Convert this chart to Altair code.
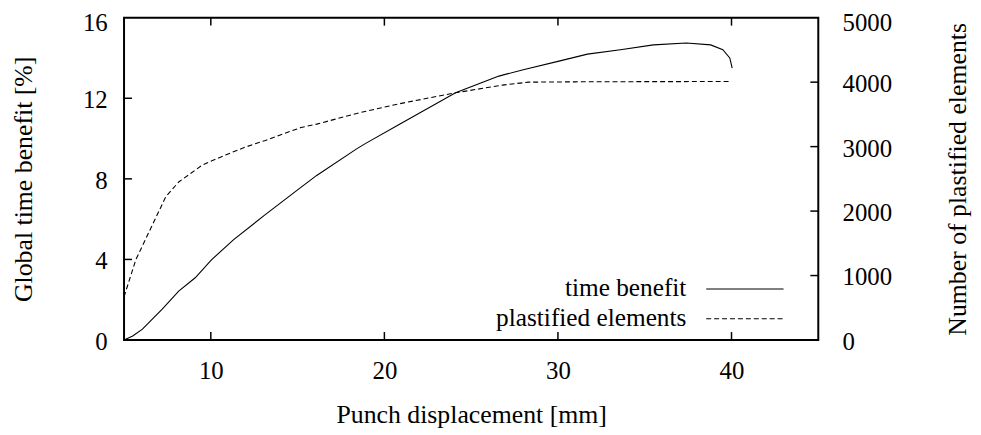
import altair as alt
import pandas as pd

# ---- data ----
tb_x = [5.0, 5.5, 6.06, 7.2, 8.15, 9.1, 10.05, 11.3, 13.1, 15.0, 16.1, 18.4, 18.9,
        20.9, 24.1, 26.6, 28.0, 30.0, 31.7, 33.6, 35.5, 37.4, 38.8, 39.5, 39.9, 40.04]
tb_y = [0.0, 0.2, 0.54, 1.53, 2.43, 3.09, 3.99, 4.97, 6.2, 7.45, 8.17, 9.49, 9.75,
        10.72, 12.27, 13.1, 13.42, 13.83, 14.19, 14.41, 14.65, 14.74, 14.65, 14.41, 14.0, 13.5]

pe_x = [5.0, 5.68, 6.54, 7.4, 8.15, 9.48, 9.87, 11.0, 11.96, 13.1, 15.2, 16.1, 18.6,
        20.9, 24.1, 26.8, 28.3, 31.0, 35.0, 40.0]
pe_v = [670, 1246, 1733, 2220, 2451, 2708, 2758, 2887, 2990, 3092, 3297, 3349, 3528,
        3667, 3835, 3954, 4000, 4005, 4008, 4010]

x_ticks = [10, 20, 30, 40]
y_left_ticks = [0, 4, 8, 12, 16]
y_right_ticks = [0, 1000, 2000, 3000, 4000, 5000]
left_inner_ticks = [4, 8, 12]
right_inner_ticks = [1000, 2000, 3000, 4000]
legend_labels = ["time benefit", "plastified elements"]

W, H = 700, 325
FONT = "Liberation Serif"
TL = 8  # inward tick length

tb_df = pd.DataFrame({"x": tb_x, "y": tb_y})
pe_df = pd.DataFrame({"x": pe_x, "v": pe_v})
xt_df = pd.DataFrame({"x": x_ticks})
ylt_df = pd.DataFrame({"y": left_inner_ticks})
yrt_df = pd.DataFrame({"v": right_inner_ticks})

top_label_offset = {"condition": {"test": "datum.index == 1", "value": 4.5}, "value": 1.5}

x_enc = alt.X(
    "x:Q",
    scale=alt.Scale(domain=[5, 45], nice=False, zero=False),
    axis=alt.Axis(
        values=x_ticks, title="Punch displacement [mm]", format="d",
        labelBaseline="alphabetic", labelPadding=39,
        titleX=W / 2, titleY=83, titleAlign="center", titleBaseline="alphabetic",
    ),
)
yl_enc = alt.Y(
    "y:Q",
    scale=alt.Scale(domain=[0, 16], nice=False),
    axis=alt.Axis(
        values=y_left_ticks, title="Global time benefit [%]", orient="left", format="d",
        labelPadding=17, labelOffset=top_label_offset,
        titleAngle=270, titleX=-93, titleY=H / 2, titleAlign="center",
        titleBaseline="alphabetic",
    ),
)
yr_enc = alt.Y(
    "v:Q",
    scale=alt.Scale(domain=[0, 5000], nice=False),
    axis=alt.Axis(
        values=y_right_ticks, title="Number of plastified elements", orient="right",
        format="d", labelPadding=24, labelOffset=top_label_offset,
        titleAngle=270, titleX=148, titleY=H / 2, titleAlign="center",
        titleBaseline="alphabetic",
    ),
)

line_tb = alt.Chart(tb_df).mark_line(color="black", strokeWidth=1.1).encode(x=x_enc, y=yl_enc)
ticks_left = alt.Chart(ylt_df).mark_rule(color="black", strokeWidth=1.5).encode(
    y=yl_enc, x=alt.value(0), x2=alt.value(TL))
ticks_bottom = alt.Chart(xt_df).mark_rule(color="black", strokeWidth=1.5).encode(
    x=x_enc, y=alt.value(H), y2=alt.value(H - TL))
ticks_top = alt.Chart(xt_df).mark_rule(color="black", strokeWidth=1.5).encode(
    x=x_enc, y=alt.value(0), y2=alt.value(TL))

# manual legend (labels left of samples, as in the reference)
leg1_t = alt.Chart(pd.DataFrame({"label": [legend_labels[0]]})).mark_text(
    font=FONT, fontSize=25.5, align="right", baseline="alphabetic", color="black"
).encode(text="label:N", x=alt.value(567), y=alt.value(281))
leg2_t = alt.Chart(pd.DataFrame({"label": [legend_labels[1]]})).mark_text(
    font=FONT, fontSize=25.5, align="right", baseline="alphabetic", color="black"
).encode(text="label:N", x=alt.value(567), y=alt.value(311))
leg1_s = alt.Chart(pd.DataFrame({"label": [legend_labels[0]]})).mark_rule(
    color="black", strokeWidth=1.1
).encode(x=alt.value(587), x2=alt.value(665), y=alt.value(273.5))
leg2_s = alt.Chart(pd.DataFrame({"label": [legend_labels[1]]})).mark_rule(
    color="black", strokeWidth=1.1, strokeDash=[5, 3]
).encode(x=alt.value(587), x2=alt.value(665), y=alt.value(303.5))

left = alt.layer(line_tb, ticks_left, ticks_bottom, ticks_top, leg1_t, leg2_t, leg1_s, leg2_s)

line_pe = alt.Chart(pe_df).mark_line(color="black", strokeWidth=1.1, strokeDash=[5, 3]).encode(
    x=x_enc, y=yr_enc)
ticks_right = alt.Chart(yrt_df).mark_rule(color="black", strokeWidth=1.5).encode(
    y=yr_enc, x=alt.value(W - TL), x2=alt.value(W))
right = alt.layer(line_pe, ticks_right)

chart = (
    alt.layer(left, right)
    .resolve_scale(y="independent")
    .properties(
        width=W, height=H,
        padding={"left": 117, "top": 8, "right": 156, "bottom": 94},
        autosize=alt.AutoSizeParams(type="none"),
        background="white",
    )
    .configure_view(stroke="black", strokeWidth=2)
    .configure_axis(
        grid=False, domain=False, ticks=False, tickSize=0,
        labelFont=FONT, labelFontSize=25, labelColor="black",
        titleFont=FONT, titleFontSize=26, titleFontWeight="normal", titleColor="black",
    )
)

chart.save("out.html", embed_options={"renderer": "svg", "actions": False})
